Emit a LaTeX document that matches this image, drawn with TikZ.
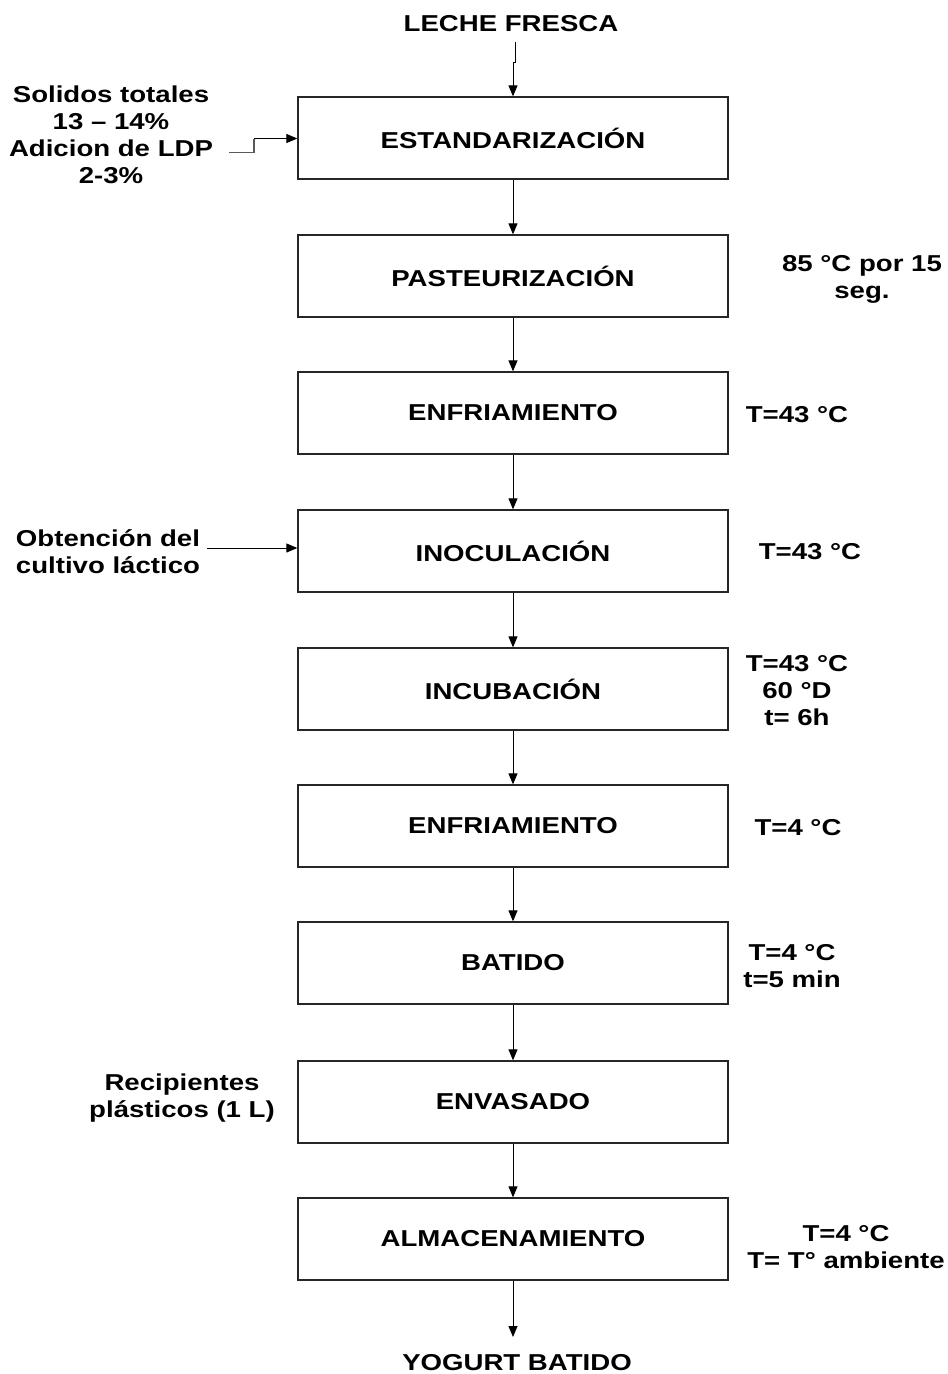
\documentclass[tikz,border=0pt]{standalone}
\usepackage{fontspec}
\setmainfont{Liberation Sans}[FakeStretch=1.2]
\usetikzlibrary{arrows.meta}
\begin{document}
\begin{tikzpicture}[x=1pt,y=-1pt,
  lbl/.style={font=\fontsize{23}{27}\selectfont\bfseries, align=center, inner sep=0pt},
  stepbox/.style={draw=black!85, line width=1.3pt, minimum width=430pt, minimum height=82pt, inner sep=0pt, font=\fontsize{23}{27}\selectfont\bfseries},
  flow/.style={draw=black, line width=1pt, -{Triangle[length=11pt,width=9pt]}}]
\useasboundingbox (0,0) rectangle (948,1374);

% process boxes
\node[stepbox] (b1) at (513,138) {ESTANDARIZACIÓN};
\node[stepbox] (b2) at (513,276) {PASTEURIZACIÓN};
\node[stepbox] (b3) at (513,413) {ENFRIAMIENTO};
\node[stepbox] (b4) at (513,551) {INOCULACIÓN};
\node[stepbox] (b5) at (513,689) {INCUBACIÓN};
\node[stepbox] (b6) at (513,826) {ENFRIAMIENTO};
\node[stepbox] (b7) at (513,963) {BATIDO};
\node[stepbox] (b8) at (513,1102) {ENVASADO};
\node[stepbox] (b9) at (513,1239) {ALMACENAMIENTO};

% start / end
\node[lbl] (leche) at (511,24) {LECHE FRESCA};
\node[lbl] (yog) at (517,1363) {YOGURT BATIDO};

% left inputs
\node[lbl] (sol) at (111,135) {Solidos totales\\13 -- 14\%\\Adicion de LDP\\2-3\%};
\node[lbl] (obt) at (108,552) {Obtención del\\cultivo láctico};
\node[lbl] (rec) at (182,1098) {Recipientes\\plásticos (1 L)};

% right conditions
\node[lbl] (c2) at (862,279) {85 °C por 15\\seg.};
\node[lbl] (c3) at (797,415) {T=43 °C};
\node[lbl] (c4) at (810,552) {T=43 °C};
\node[lbl] (c5) at (797,691) {T=43 °C\\60 °D\\t= 6h};
\node[lbl] (c6) at (798,828) {T=4 °C};
\node[lbl] (c7) at (792,966) {T=4 °C\\t=5 min};
\node[lbl] (c9) at (846,1247) {T=4 °C\\T= T° ambiente};

% connectors
\coordinate (lecheEnd) at (515,42);
\coordinate (jog) at (515,62);
\draw[flow] (lecheEnd) -- (jog) -- (513,62) -- (b1.north);
\foreach \a/\b in {b1/b2,b2/b3,b3/b4,b4/b5,b5/b6,b6/b7,b7/b8,b8/b9}
  \draw[flow] (\a.south) -- (\b.north);
\coordinate (yogTop) at (513,1337);
\draw[flow] (b9.south) -- (yogTop);

\coordinate (solEnd) at (229,152.5);
\draw[draw=black!65, line width=1.2pt] (solEnd) -- (254,152.5) -- (254,138.5);
\draw[flow] (254,138.5) -- (b1.west |- 0,138.5);
\coordinate (obtEnd) at (207,548);
\draw[flow] (obtEnd) -- (b4.west |- obtEnd);
\end{tikzpicture}
\end{document}
